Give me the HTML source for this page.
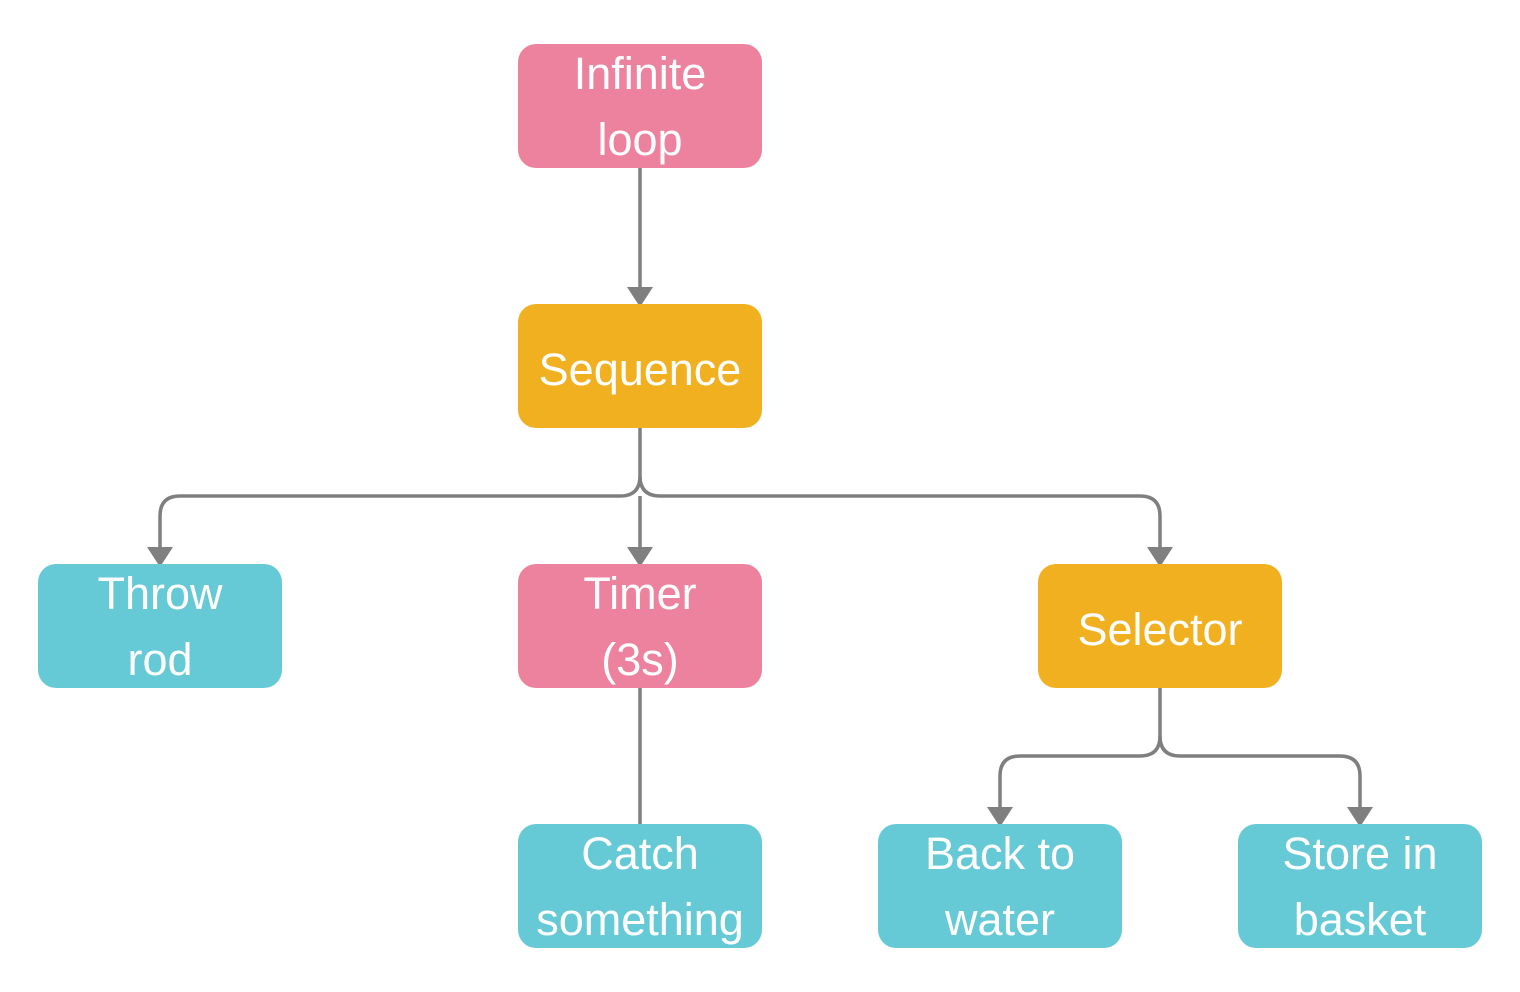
<!DOCTYPE html>
<html><head><style>
html,body{margin:0;padding:0;background:#fff;width:1520px;height:992px;overflow:hidden}
text{font-family:"Liberation Sans",sans-serif;font-size:45px;fill:#fff;text-anchor:middle}
</style></head><body>
<svg width="1520" height="992" viewBox="0 0 1520 992" xmlns="http://www.w3.org/2000/svg">
<g fill="none" stroke="#7f7f7f" stroke-width="3.5">
<path d="M640 166V290"/>
<path d="M640 426V476Q640 496 620 496H180Q160 496 160 516V550"/>
<path d="M640 476Q640 496 660 496H1140Q1160 496 1160 516V550"/>
<path d="M640 496V550"/>
<path d="M640 686V826"/>
<path d="M1160 686V736Q1160 756 1140 756H1020Q1000 756 1000 776V810"/>
<path d="M1160 736Q1160 756 1180 756H1340Q1360 756 1360 776V810"/>
</g>
<g fill="#7f7f7f">
<path d="M627 287H653L640 307Z"/>
<path d="M147 547H173L160 567Z"/>
<path d="M627 547H653L640 567Z"/>
<path d="M1147 547H1173L1160 567Z"/>
<path d="M987 807H1013L1000 827Z"/>
<path d="M1347 807H1373L1360 827Z"/>
</g>
<rect x="518" y="44" width="244" height="124" rx="18" fill="#ED829E"/>
<rect x="518" y="304" width="244" height="124" rx="18" fill="#F0B01F"/>
<rect x="38" y="564" width="244" height="124" rx="18" fill="#65C9D6"/>
<rect x="518" y="564" width="244" height="124" rx="18" fill="#ED829E"/>
<rect x="1038" y="564" width="244" height="124" rx="18" fill="#F0B01F"/>
<rect x="518" y="824" width="244" height="124" rx="18" fill="#65C9D6"/>
<rect x="878" y="824" width="244" height="124" rx="18" fill="#65C9D6"/>
<rect x="1238" y="824" width="244" height="124" rx="18" fill="#65C9D6"/>
<text x="640" y="89">Infinite</text><text x="640" y="155">loop</text>
<text x="640" y="385">Sequence</text>
<text x="160" y="609">Throw</text><text x="160" y="675">rod</text>
<text x="640" y="609">Timer</text><text x="640" y="675">(3s)</text>
<text x="1160" y="645">Selector</text>
<text x="640" y="869">Catch</text><text x="640" y="935">something</text>
<text x="1000" y="869">Back to</text><text x="1000" y="935">water</text>
<text x="1360" y="869">Store in</text><text x="1360" y="935">basket</text>
</svg>
</body></html>
